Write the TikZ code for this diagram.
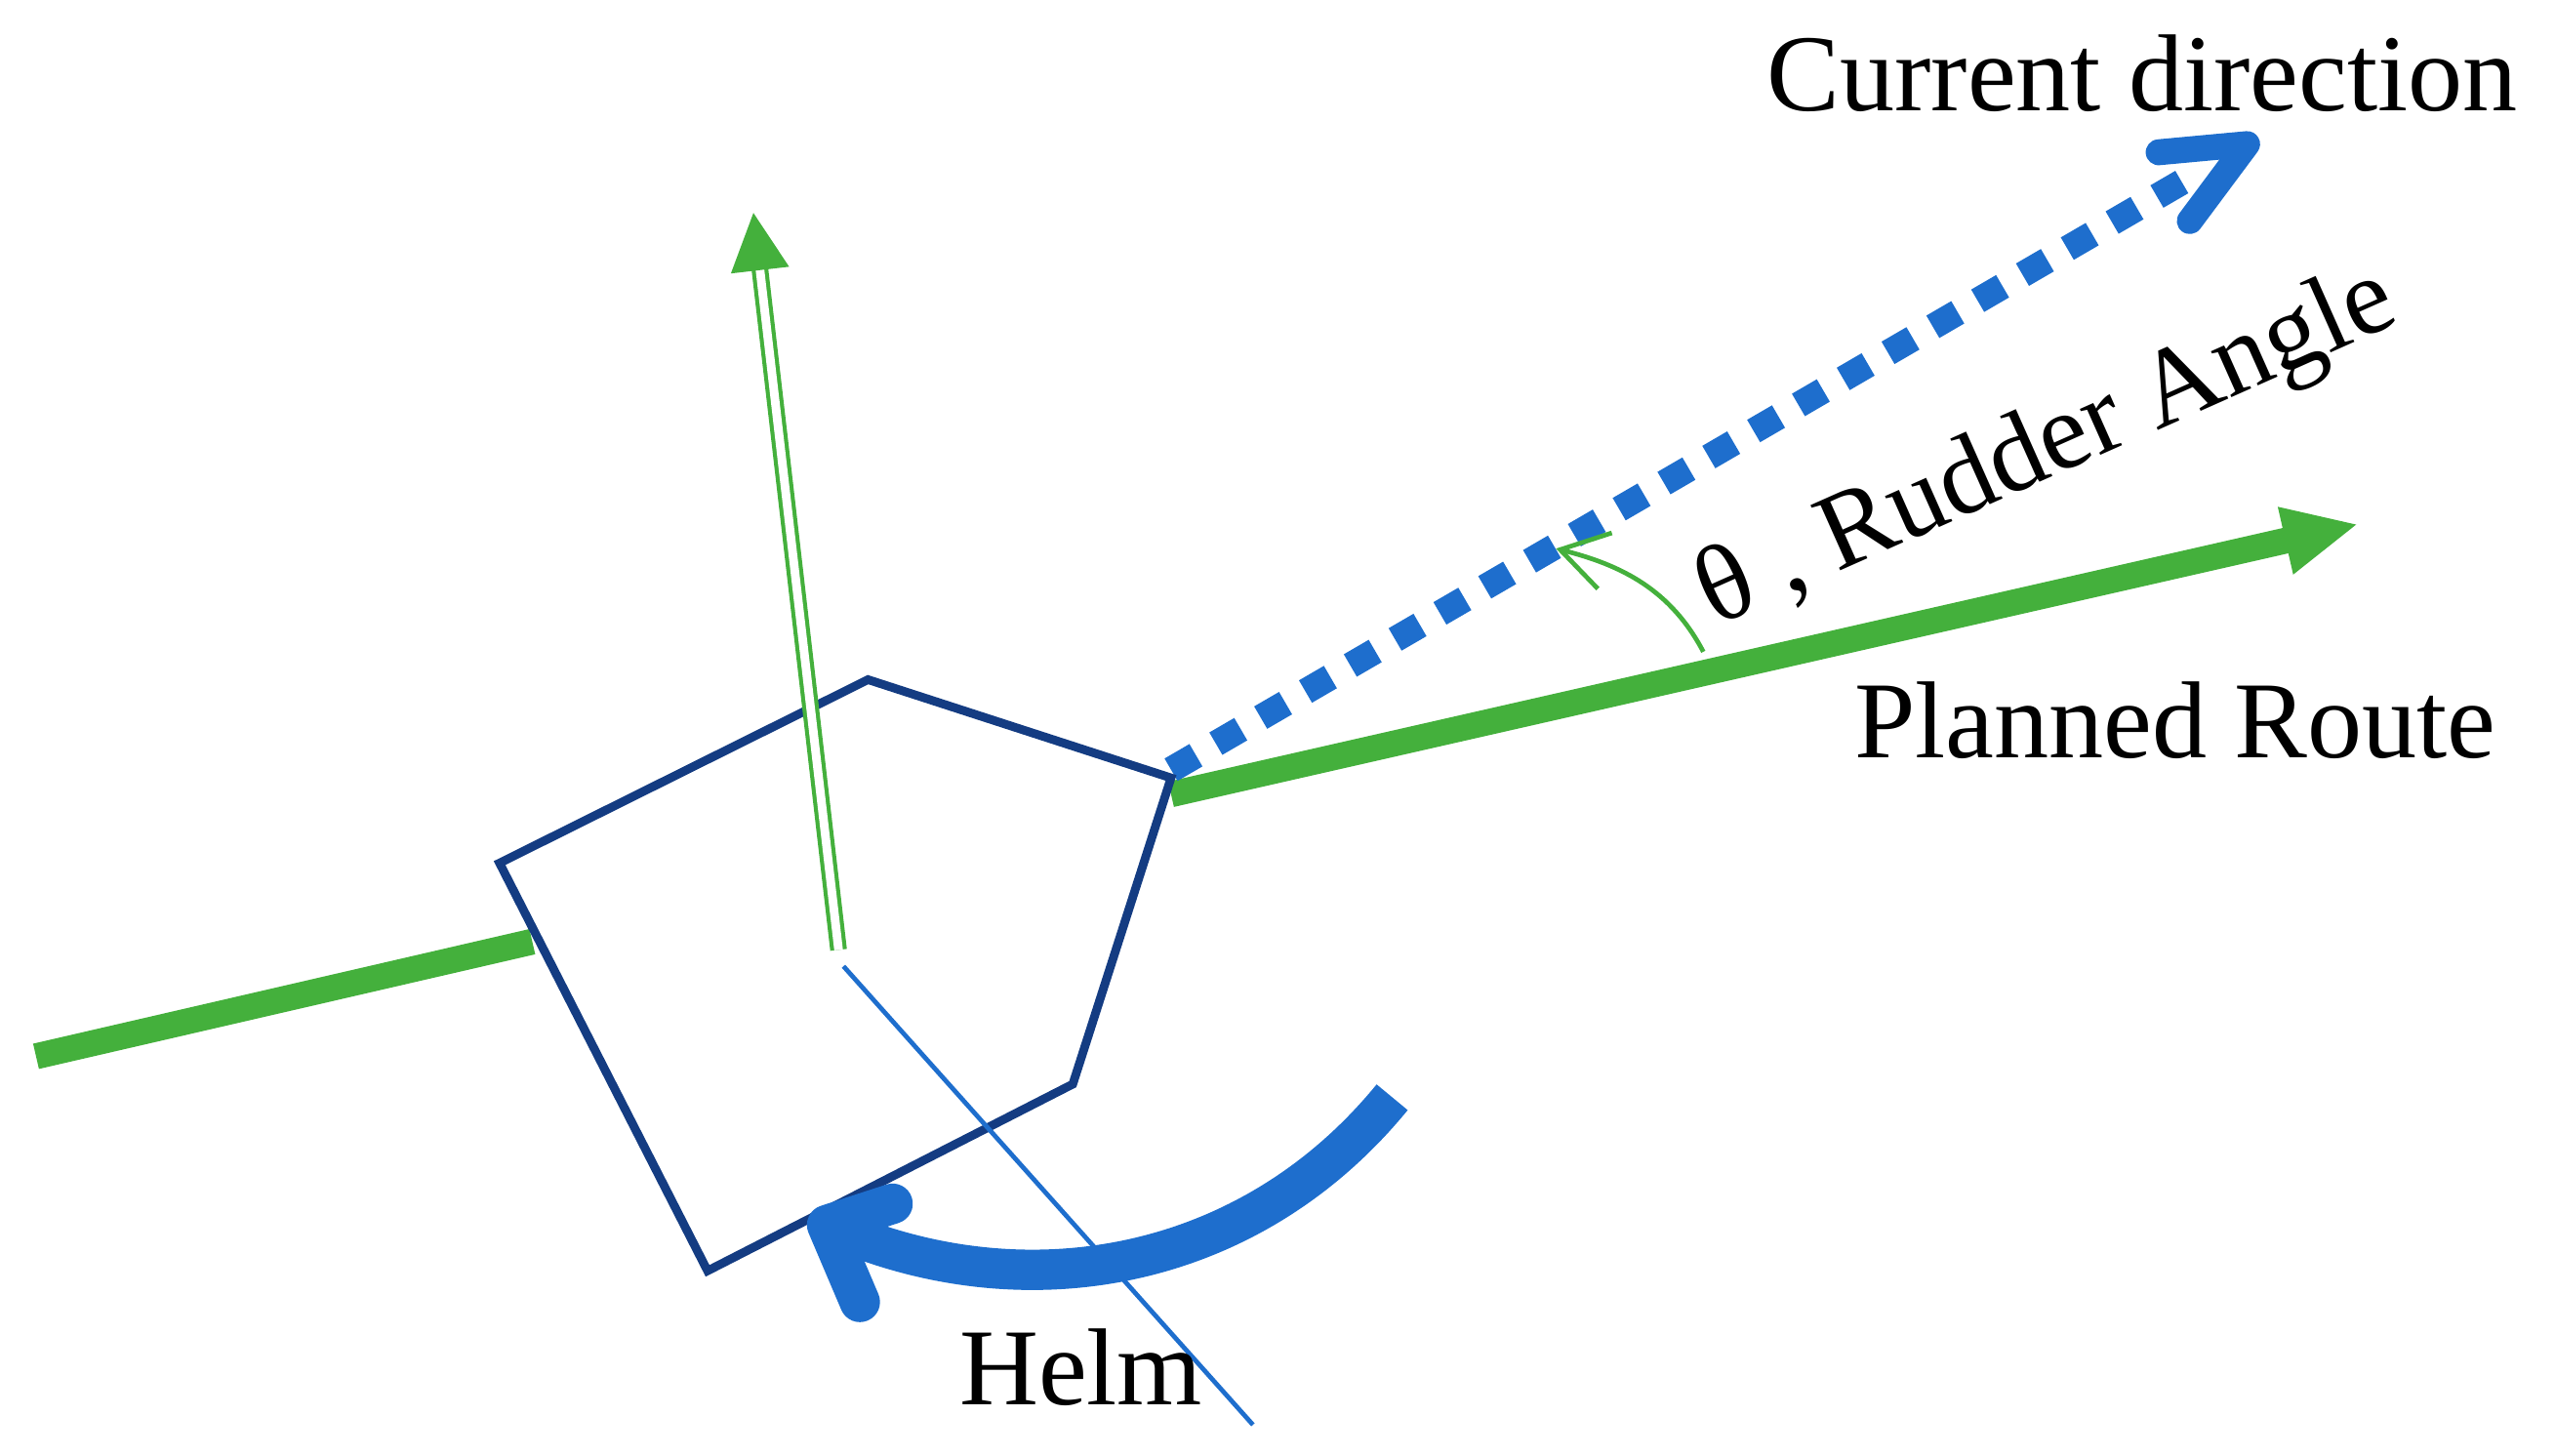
\documentclass[tikz,border=0pt]{standalone}
\usepackage{fontspec}
\setmainfont{Liberation Serif}
\usetikzlibrary{arrows.meta,calc}
\definecolor{gr}{RGB}{68,176,60}
\definecolor{bl}{RGB}{30,110,205}
\definecolor{nv}{RGB}{20,60,130}
\tikzset{lbl/.style={font=\fontsize{19}{21}\selectfont, inner sep=0pt},
route/.style={gr, line width=4.5pt}}
\begin{document}
\begin{tikzpicture}[x=0.01cm,y=-0.01cm]
\useasboundingbox (0,0) rectangle (1560,889);
\coordinate (p1) at (305,527); \coordinate (p2) at (530,415); \coordinate (p3) at (715,475);
\coordinate (p4) at (655,662); \coordinate (p5) at (432,776);
\coordinate (ls) at (22,645); \coordinate (le) at (325,575);
\coordinate (rs) at (715,485); \coordinate (re) at (1440,320);
\coordinate (ds) at (715,470); \coordinate (de) at (1372,88);
\coordinate (us) at (512,580); \coordinate (ue) at (460,130);
\coordinate (hs) at (515,590); \coordinate (he) at (765,870);
\draw[route] (ls) -- (le);
\draw[route, -{Triangle[length=13pt,width=11pt]}] (rs) -- (re);
\draw[bl, line width=4.5pt, dash pattern=on 5pt off 4pt] (ds) -- ($(ds)!0.95!(de)$);
\draw[bl, line width=4.5pt, line cap=round, line join=round] (1318,93) -- (de) -- (1337,135);
\draw[nv, line width=1.5pt] (p1) -- (p2) -- (p3) -- (p4) -- (p5) -- cycle;
\draw[gr, double=white, double distance=1.5pt, line width=0.7pt, -{Triangle[length=10pt,width=10pt]}] (us) -- (ue);
\draw[bl, line width=0.8pt] (hs) -- (he);
\draw[gr, line width=0.8pt, -{Straight Barb[length=8pt,width=10pt]}] (1040,398) .. controls (1020,360) and (990,345) .. (950,335);
\draw[bl, line width=7pt] (850,670) .. controls (760,780) and (620,800) .. (505,748);
\draw[bl, line width=7pt, line cap=round, line join=round] (545,735) -- (505,748) -- (525,795);
\node[lbl] (cd) at (1308,45) {Current direction};
\node[lbl, rotate=24] (ra) at (1250,275) {θ , Rudder Angle};
\node[lbl] (pr) at (1328,440) {Planned Route};
\node[lbl] (hl) at (660,835) {Helm};
\end{tikzpicture}
\end{document}
